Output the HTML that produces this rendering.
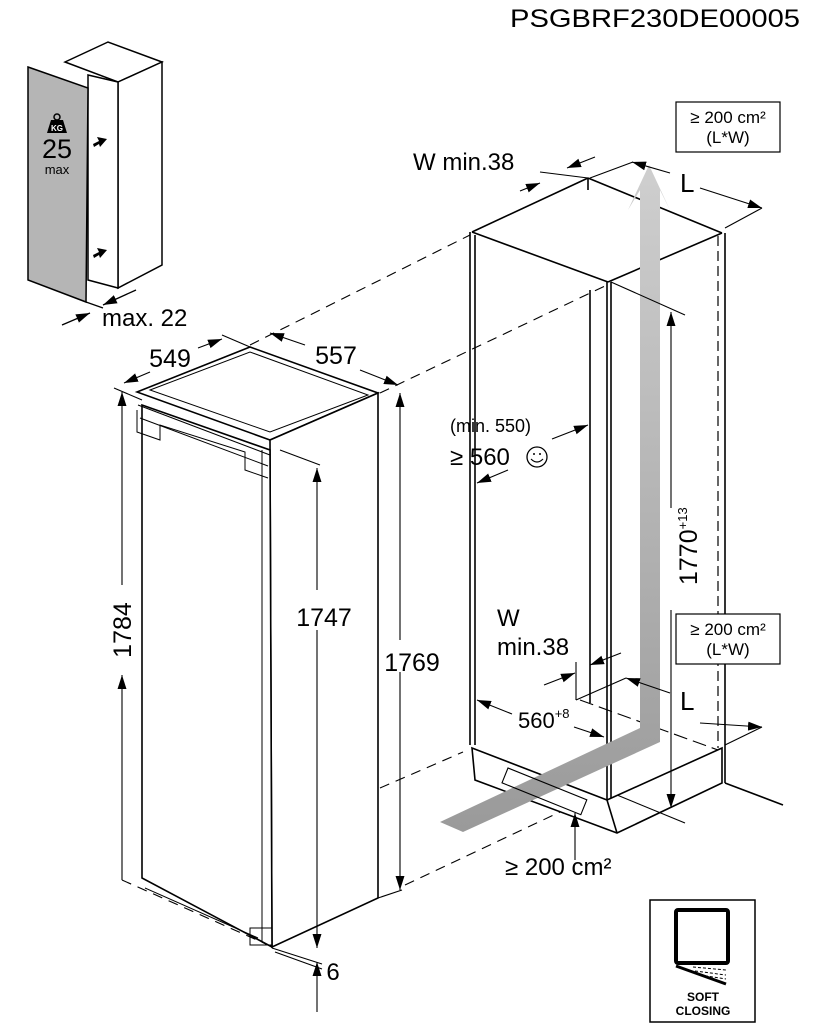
<!DOCTYPE html>
<html><head><meta charset="utf-8"><style>
html,body{margin:0;padding:0;background:#fff;}
svg{display:block;font-family:"Liberation Sans",sans-serif;}
</style></head><body>
<svg width="830" height="1024" viewBox="0 0 830 1024" xmlns="http://www.w3.org/2000/svg">
<defs>
<marker id="a" viewBox="0 0 10 10" refX="10" refY="5" markerWidth="14" markerHeight="14" markerUnits="userSpaceOnUse" orient="auto-start-reverse"><path d="M0,1.8 L10,5 L0,8.2z" fill="#000"/></marker>
<linearGradient id="g" x1="0" y1="1" x2="0" y2="0"><stop offset="0" stop-color="#9a9a9a"/><stop offset="1" stop-color="#cfcfcf"/></linearGradient>
</defs>
<text x="510" y="27" font-size="25" textLength="290" lengthAdjust="spacingAndGlyphs">PSGBRF230DE00005</text>

<!-- small panel -->
<g stroke="#000" stroke-width="1.5" fill="#fff">
<polygon points="65,62 108,42 162,62 118,82"/>
<polygon points="118,82 162,62 162,265 118,288"/>
<polygon points="88,75 118,82 118,288 88,280"/>
</g>
<polygon points="28,67 88,88 86,302 28,280" fill="#b5b5b5" stroke="#000" stroke-width="1.5"/>
<text x="57" y="158" font-size="27" text-anchor="middle">25</text>
<text x="57" y="174" font-size="13" text-anchor="middle">max</text>
<path d="M47,133 L51,120 L63,120 L67,133z" fill="#000"/><circle cx="57" cy="117" r="3" fill="none" stroke="#000" stroke-width="1.5"/>
<text x="57" y="131" font-size="8" fill="#fff" text-anchor="middle" font-weight="bold">KG</text>
<path d="M93,144 L99,141 L97,137 L107,139 L100,147 L99,144 L94,147z" fill="#000"/>
<path d="M93,255 L99,252 L97,248 L107,250 L100,258 L99,255 L94,258z" fill="#000"/>
<g stroke="#000" stroke-width="1.3" fill="none">
<line x1="62" y1="325" x2="90" y2="313" marker-end="url(#a)"/>
<line x1="136" y1="290" x2="103" y2="305" marker-end="url(#a)"/>
<line x1="86" y1="302" x2="103" y2="308"/>
</g>
<text x="102" y="326" font-size="24">max. 22</text>

<!-- dashed connectors -->
<g stroke="#000" stroke-width="1.1" stroke-dasharray="10,7" fill="none">
<line x1="250" y1="345" x2="470" y2="235"/>
<line x1="380" y1="393" x2="607" y2="285"/>
<line x1="380" y1="788" x2="463" y2="752"/>
<line x1="405" y1="885" x2="560" y2="812"/>
<line x1="122" y1="880" x2="275" y2="948"/>
</g>

<!-- main fridge -->
<g stroke="#000" stroke-width="1.6" fill="#fff">
<polygon points="137,392 250,347 378,393 270,440"/>
<polygon points="270,440 378,393 378,898 272,947"/>
<polygon points="142,405 270,450 272,947 142,878"/>
</g>
<g stroke="#000" stroke-width="1" fill="none">
<polygon points="150,390 250,352 368,395 270,432"/>
<line x1="138" y1="405" x2="270" y2="455"/>
<line x1="140" y1="418" x2="268" y2="466"/>
<path d="M137,410 L137,432 L160,440 L160,425 L245,452 L245,470 L268,478"/>
<line x1="262" y1="450" x2="262" y2="942"/>
<line x1="145" y1="888" x2="258" y2="938"/>
<rect x="250" y="928" width="22" height="17"/>
</g>
<!-- dims main -->
<g stroke="#000" stroke-width="1.1" fill="none">
<line x1="122" y1="880" x2="122" y2="675" marker-end="url(#a)"/>
<line x1="122" y1="585" x2="122" y2="392" marker-end="url(#a)"/>
<line x1="317" y1="590" x2="317" y2="468" marker-end="url(#a)"/>
<line x1="317" y1="630" x2="317" y2="948" marker-end="url(#a)"/>
<line x1="317" y1="1012" x2="317" y2="962" marker-end="url(#a)"/>
<line x1="400" y1="640" x2="400" y2="393" marker-end="url(#a)"/>
<line x1="400" y1="672" x2="400" y2="890" marker-end="url(#a)"/>
<line x1="378" y1="898" x2="402" y2="890"/>
<line x1="114" y1="388" x2="142" y2="400"/>
<line x1="280" y1="450" x2="320" y2="465"/>
<line x1="272" y1="948" x2="322" y2="964"/>
<line x1="275" y1="952" x2="322" y2="969"/>
<line x1="198" y1="348" x2="222" y2="339" marker-end="url(#a)"/>
<line x1="150" y1="372" x2="124" y2="383" marker-end="url(#a)"/>
<line x1="222" y1="335" x2="250" y2="347"/>
<line x1="305" y1="345" x2="270" y2="333" marker-end="url(#a)"/>
<line x1="360" y1="370" x2="398" y2="385" marker-end="url(#a)"/>
</g>
<text transform="translate(131,630) rotate(-90)" font-size="25" text-anchor="middle">1784</text>
<text x="324" y="626" font-size="25" text-anchor="middle">1747</text>
<text x="412" y="671" font-size="25" text-anchor="middle">1769</text>
<text x="333" y="980" font-size="24" text-anchor="middle">6</text>
<text x="170" y="367" font-size="25" text-anchor="middle">549</text>
<text x="336" y="364" font-size="25" text-anchor="middle">557</text>

<!-- right cabinet -->
<g stroke="#000" stroke-width="1.6" fill="none">
<line x1="472" y1="232" x2="588" y2="178"/>
<line x1="588" y1="178" x2="722" y2="233"/>
<line x1="588" y1="178" x2="588" y2="190"/>
<line x1="472" y1="232" x2="608" y2="282"/>
<line x1="608" y1="282" x2="722" y2="233"/>
<line x1="470" y1="232" x2="470" y2="745"/>
<line x1="475" y1="235" x2="475" y2="745"/>
<line x1="607" y1="282" x2="607" y2="800"/>
<line x1="611" y1="282" x2="611" y2="800"/>
<line x1="590" y1="290" x2="590" y2="703"/>
<line x1="725" y1="233" x2="725" y2="783"/>
<polygon points="472,748 607,800 722,748 722,783 617,833 475,780" fill="#fff"/>
<line x1="607" y1="800" x2="617" y2="833"/>
<line x1="725" y1="783" x2="783" y2="805"/>
</g>
<line x1="718" y1="236" x2="718" y2="748" stroke="#000" stroke-width="1.2" stroke-dasharray="10,5"/>
<line x1="580" y1="700" x2="718" y2="750" stroke="#000" stroke-width="1.1" stroke-dasharray="14,6"/>
<!-- gray airflow -->
<polygon points="440,822 463,832 660,742 660,190 670,210 649,165 628,210 640,190 640,728" fill="url(#g)"/>
<g stroke="#000" stroke-width="1.1" fill="none">
<rect x="0" y="0" width="85" height="16" transform="translate(508,768) rotate(22)"/>
<line x1="611" y1="282" x2="685" y2="315"/>
<line x1="671" y1="508" x2="671" y2="312" marker-end="url(#a)"/>
<line x1="671" y1="610" x2="671" y2="808" marker-end="url(#a)"/>
<line x1="617" y1="795" x2="685" y2="823"/>
<line x1="575" y1="843" x2="575" y2="813" marker-end="url(#a)"/>
<line x1="575" y1="843" x2="575" y2="860"/>
<line x1="520" y1="191" x2="540" y2="183" marker-end="url(#a)"/>
<line x1="595" y1="157" x2="567" y2="168" marker-end="url(#a)"/>
<line x1="540" y1="172" x2="588" y2="178"/>
<line x1="590" y1="178" x2="633" y2="162"/>
<line x1="670" y1="173" x2="632" y2="162" marker-end="url(#a)"/>
<line x1="700" y1="188" x2="762" y2="208" marker-end="url(#a)"/>
<line x1="725" y1="228" x2="762" y2="208"/>
<line x1="700" y1="723" x2="762" y2="727" marker-end="url(#a)"/>
<line x1="670" y1="693" x2="626" y2="678" marker-end="url(#a)"/>
<line x1="576" y1="700" x2="626" y2="678"/>
<line x1="725" y1="745" x2="762" y2="727"/>
<line x1="576" y1="662" x2="576" y2="700"/>
<line x1="544" y1="685" x2="575" y2="673" marker-end="url(#a)"/>
<line x1="621" y1="653" x2="590" y2="665" marker-end="url(#a)"/>
<line x1="512" y1="714" x2="477" y2="700" marker-end="url(#a)"/>
<line x1="574" y1="727" x2="604" y2="737" marker-end="url(#a)"/>
<line x1="552" y1="439" x2="588" y2="425" marker-end="url(#a)"/>
<line x1="508" y1="470" x2="477" y2="483" marker-end="url(#a)"/>
</g>
<text x="413" y="170" font-size="24">W min.38</text>
<text x="680" y="192" font-size="26">L</text>
<text x="680" y="710" font-size="26">L</text>
<text x="450" y="432" font-size="18">(min. 550)</text>
<text x="450" y="465" font-size="24">≥ 560</text>
<circle cx="537" cy="457" r="10" fill="none" stroke="#000" stroke-width="1.3"/>
<circle cx="534" cy="454" r="1" fill="#000"/><circle cx="540" cy="454" r="1" fill="#000"/>
<path d="M531,459 Q537,465 543,459" fill="none" stroke="#000" stroke-width="1.2"/>
<text x="497" y="626" font-size="24">W</text>
<text x="497" y="655" font-size="24">min.38</text>
<text x="518" y="728" font-size="22">560<tspan font-size="13" dy="-10">+8</tspan></text>
<text transform="translate(697,585) rotate(-90)" font-size="25">1770<tspan font-size="13" dy="-10">+13</tspan></text>
<text x="505" y="875" font-size="24">≥ 200 cm²</text>
<g fill="#fff" stroke="#000" stroke-width="1.2">
<rect x="676" y="102" width="104" height="50"/>
<rect x="676" y="614" width="104" height="50"/>
</g>
<text x="728" y="123" font-size="17" text-anchor="middle">≥ 200 cm²</text>
<text x="728" y="143" font-size="17" text-anchor="middle">(L*W)</text>
<text x="728" y="635" font-size="17" text-anchor="middle">≥ 200 cm²</text>
<text x="728" y="655" font-size="17" text-anchor="middle">(L*W)</text>

<!-- soft closing -->
<rect x="650" y="900" width="105" height="122" fill="#fff" stroke="#000" stroke-width="1.5"/>
<rect x="676" y="910" width="52" height="53" fill="none" stroke="#000" stroke-width="4" rx="2"/>
<line x1="676" y1="966" x2="726" y2="984" stroke="#000" stroke-width="3"/>
<g stroke="#000" stroke-width="1" stroke-dasharray="3,2"><line x1="693" y1="967" x2="726" y2="970"/><line x1="695" y1="971" x2="726" y2="975"/><line x1="700" y1="975" x2="726" y2="979"/></g>
<text x="703" y="1001" font-size="12" font-weight="bold" text-anchor="middle">SOFT</text>
<text x="703" y="1015" font-size="12" font-weight="bold" text-anchor="middle">CLOSING</text>
</svg>
</body></html>
